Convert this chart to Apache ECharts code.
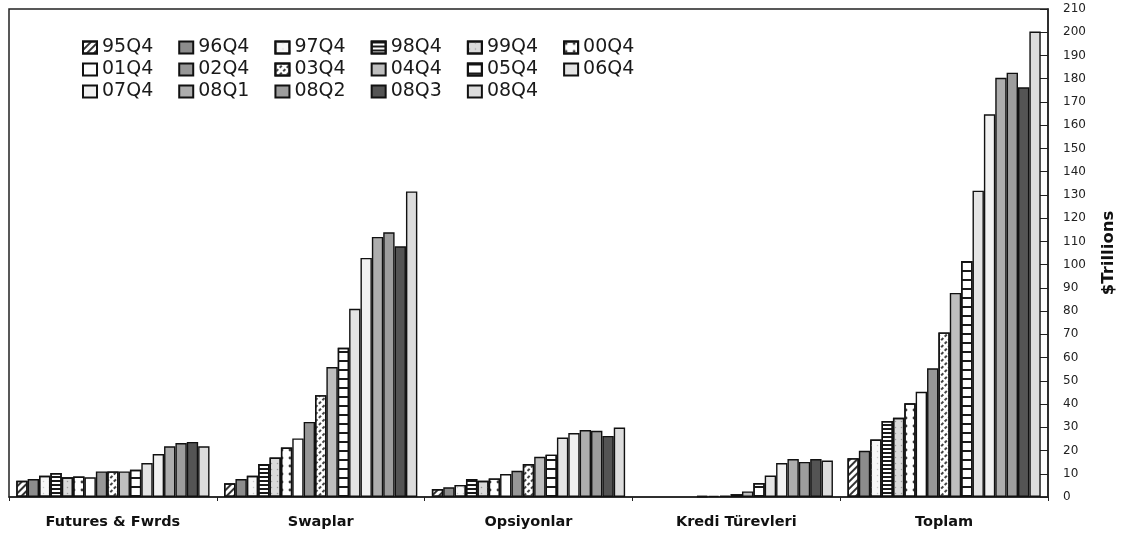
<!DOCTYPE html>
<html>
<head>
<meta charset="utf-8">
<script src="https://cdn.jsdelivr.net/npm/echarts@6/dist/echarts.min.js"></script>
<style>
  html, body { margin: 0; padding: 0; background: #fff; }
  #chart { width: 1136px; height: 541px; }
</style>
</head>
<body>
<div id="chart"></div>
<script>
// Instrument groups on the category axis
const categories = ['Futures & Fwrds', 'Swaplar', 'Opsiyonlar', 'Kredi Türevleri', 'Toplam'];

// Reporting periods (one bar series each)
const periods = ['95Q4', '96Q4', '97Q4', '98Q4', '99Q4', '00Q4',
                 '01Q4', '02Q4', '03Q4', '04Q4', '05Q4', '06Q4',
                 '07Q4', '08Q1', '08Q2', '08Q3', '08Q4'];

// Notional amounts outstanding, $ trillions, per instrument and period
const futuresFwrds = [7.0, 7.7, 9.1, 10.3, 8.5, 8.8, 8.5, 11.0, 11.0, 11.0, 11.7, 14.6, 18.5, 21.8, 23.2, 23.7, 21.8];
const swaplar      = [5.9, 7.7, 9.1, 14.2, 17.0, 21.3, 25.2, 32.3, 43.8, 55.9, 64.2, 81.0, 102.9, 111.9, 113.9, 107.9, 131.5];
const opsiyonlar   = [3.4, 4.2, 5.2, 7.7, 7.0, 8.0, 9.9, 11.3, 14.2, 17.3, 18.2, 25.6, 27.5, 28.8, 28.5, 26.3, 29.9];
const krediTurev   = [null, null, null, null, null, 0.4, 0.5, 0.6, 1.2, 2.4, 6.0, 9.2, 14.6, 16.3, 15.1, 16.3, 15.7];
const toplam       = [16.7, 19.9, 24.7, 32.7, 34.1, 40.3, 45.3, 55.4, 70.8, 87.8, 101.6, 131.8, 164.7, 180.4, 182.6, 176.3, 200.3];

// Value axis ticks
const yMin = 0, yMax = 210, yStep = 10;

// Fill and pattern for each period
const diag = (color, dash) => ({ symbol: 'rect', symbolSize: 1, color, dashArrayX: dash || [1, 0], dashArrayY: [1.5, 3], rotation: -Math.PI / 4 });
const hLines = (color, h, gap) => ({ symbol: 'rect', symbolSize: 1, color, dashArrayX: [1, 0], dashArrayY: [h, gap] });
const dots = (color, size, step) => ({ symbol: 'circle', symbolSize: size, color, dashArrayX: [step, step], dashArrayY: [step, step] });

const styles = [
  { color: '#ffffff', decal: diag('#333333') },
  { color: '#8c8c8c' },
  { color: '#f6f6f6', decal: dots('#c8c8c8', 0.5, 3) },
  { color: '#ffffff', decal: hLines('#1a1a1a', 1.5, 1.5) },
  { color: '#dadada', decal: dots('#9a9a9a', 0.5, 3) },
  { color: '#ffffff', decal: dots('#3a3a3a', 0.7, 4) },
  { color: '#ffffff' },
  { color: '#979797' },
  { color: '#ffffff', decal: diag('#444444', [3, 2]) },
  { color: '#bebebe' },
  { color: '#ffffff', decal: hLines('#1a1a1a', 1.5, 7) },
  { color: '#e4e4e4' },
  { color: '#f1f1f1' },
  { color: '#adadad' },
  { color: '#9d9d9d' },
  { color: '#545454' },
  { color: '#dcdcdc' }
];

const groups = [futuresFwrds, swaplar, opsiyonlar, krediTurev, toplam];

const series = periods.map((p, i) => ({
  name: p,
  type: 'bar',
  barGap: '0%',
  barCategoryGap: '7%',
  data: groups.map(g => g[i]),
  itemStyle: Object.assign({ borderColor: '#111', borderWidth: 1.4 }, styles[i])
}));

const legendRow = (names, top) => ({
  data: names,
  left: 82,
  top: top,
  padding: 0,
  itemWidth: 14,
  itemHeight: 12,
  itemGap: 25,
  icon: 'rect',
  selectedMode: false,
  textStyle: { fontFamily: 'DejaVu Sans', fontSize: 19, color: '#1a1a1a', padding: [0, 0, 0, 0] }
});

const chart = echarts.init(document.getElementById('chart'), null, { renderer: 'canvas' });
chart.setOption({
  animation: false,
  backgroundColor: '#ffffff',
  legend: [
    legendRow(periods.slice(0, 6), 38),
    legendRow(periods.slice(6, 12), 60),
    legendRow(periods.slice(12), 82)
  ],
  grid: {
    left: 9, right: 88, top: 9, bottom: 44,
    show: true, borderColor: '#222', borderWidth: 1.5
  },
  xAxis: {
    type: 'category',
    data: categories,
    axisLine: { lineStyle: { color: '#222', width: 1.5 } },
    axisTick: { show: true, length: 4, lineStyle: { color: '#222' } },
    axisLabel: { margin: 18, fontFamily: 'DejaVu Sans', fontWeight: 900, fontSize: 14.5, color: '#111' }
  },
  yAxis: {
    type: 'value',
    position: 'right',
    min: yMin, max: yMax, interval: yStep,
    name: '$Trillions',
    nameLocation: 'middle',
    nameRotate: 90,
    nameGap: 52,
    nameTextStyle: { fontFamily: 'DejaVu Sans', fontWeight: 'bold', fontSize: 16.5, color: '#111' },
    axisLine: { show: true, lineStyle: { color: '#222', width: 1.5 } },
    axisTick: { show: true, inside: true, length: 8, lineStyle: { color: '#222' } },
    splitLine: { show: false },
    axisLabel: { margin: 15, fontFamily: 'DejaVu Sans', fontSize: 12, color: '#222' }
  },
  series: series
});
</script>
</body>
</html>
